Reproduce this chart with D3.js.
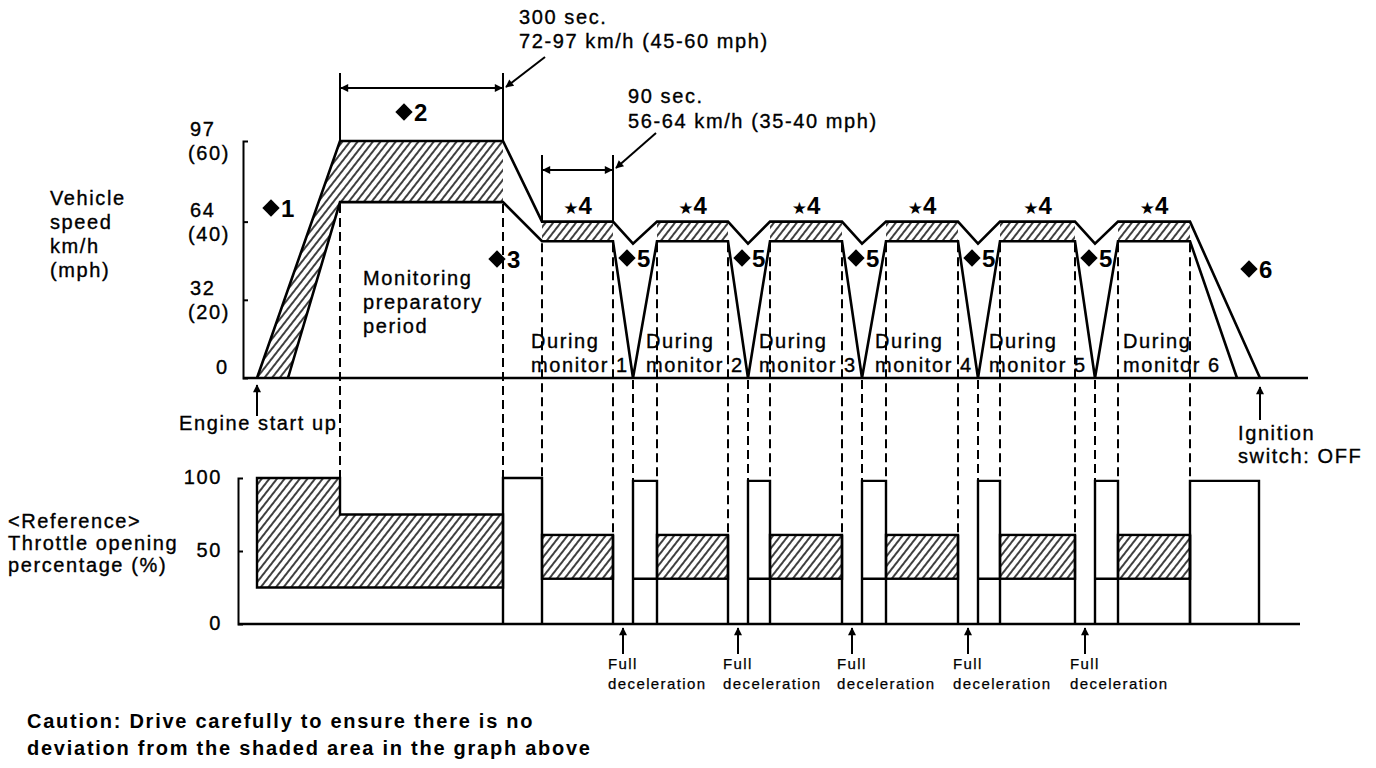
<!DOCTYPE html>
<html>
<head>
<meta charset="utf-8">
<script src="https://cdn.jsdelivr.net/npm/d3@7"></script>
<style>
  body { margin: 0; background: #fff; }
  text { font-family: "Liberation Sans", Arial, Helvetica, "DejaVu Sans", sans-serif; fill: #000; }
  .lbl { font-size: 20px; letter-spacing: 1.6px; stroke: #000; stroke-width: 0.35px; }
  .sym { font-size: 24px; font-weight: bold; }
  .small { font-size: 15px; letter-spacing: 1.4px; stroke: #000; stroke-width: 0.25px; }
  .note { font-size: 20px; font-weight: bold; letter-spacing: 1.75px; }
</style>
</head>
<body>
<svg id="chart" width="1376" height="768"></svg>
<script>
// schematic time axis, 0 = engine start (units are arbitrary, roughly px of the original sheet)
var rampLowStart = 31;
var rampEnd = 83;
var prepEnd = 246;
var monStart = [285, 400, 513, 629, 743, 861];
var monEnd = [356, 471, 585, 701, 818, 933];
var decel = [376, 491, 605, 721, 838];
var offLow = 980, offTop = 1003;

// vehicle speed, km/h
var prepBand = [72, 97];
var monBand = [56, 64];
var dipTop = 55;
var speedTicks = [0, 32, 64, 97];
var mphTicks = ['', '(20)', '(40)', '(60)'];

// throttle opening, %
var thrPrepTop = [100, 75];
var thrPrepLow = 25;
var thrFirst = 100;
var thrFull = 98;
var thrMon = [31, 61];
var thrTicks = [0, 50, 100];

var svg = d3.select('#chart');
svg.append('rect').attr('width', 1376).attr('height', 768).attr('fill', '#fff');

var defs = svg.append('defs');
defs.append('pattern')
  .attr('id', 'hatch')
  .attr('patternUnits', 'userSpaceOnUse')
  .attr('width', 6).attr('height', 6)
  .attr('patternTransform', 'rotate(38)')
  .append('line')
  .attr('x1', 3).attr('y1', 0).attr('x2', 3).attr('y2', 6)
  .attr('stroke', '#000').attr('stroke-width', 1.5);

defs.append('marker')
  .attr('id', 'arr')
  .attr('viewBox', '0 0 10 10')
  .attr('refX', 9).attr('refY', 5)
  .attr('markerWidth', 11).attr('markerHeight', 8)
  .attr('markerUnits', 'userSpaceOnUse')
  .attr('orient', 'auto-start-reverse')
  .append('path').attr('d', 'M0,0L10,5L0,10z').attr('fill', '#000');

var x = d3.scaleLinear().domain([0, 1000]).range([257, 1257]);
var ySpd = d3.scaleLinear().domain([0, 97]).range([378, 141]);
var yThr = d3.scaleLinear().domain([0, 100]).range([624, 478]);

var spdLine = d3.line().x(function (d) { return x(d[0]); }).y(function (d) { return ySpd(d[1]); });
var thrLine = d3.line().x(function (d) { return x(d[0]); }).y(function (d) { return yThr(d[1]); });

// ---------- vehicle speed ----------
var gS = svg.append('g');

// shaded tolerance areas
gS.append('path')
  .attr('d', spdLine([[0, 0], [rampEnd, prepBand[1]], [rampEnd, prepBand[0]], [rampLowStart, 0]]) + 'Z')
  .attr('fill', 'url(#hatch)');
gS.append('rect')
  .attr('x', x(rampEnd)).attr('width', x(prepEnd) - x(rampEnd))
  .attr('y', ySpd(prepBand[1])).attr('height', ySpd(prepBand[0]) - ySpd(prepBand[1]))
  .attr('fill', 'url(#hatch)');
gS.selectAll('.mband')
  .data(monStart)
  .enter().append('rect')
  .attr('class', 'mband')
  .attr('x', function (d) { return x(d); })
  .attr('width', function (d, i) { return x(monEnd[i]) - x(d); })
  .attr('y', ySpd(monBand[1]))
  .attr('height', ySpd(monBand[0]) - ySpd(monBand[1]))
  .attr('fill', 'url(#hatch)');

var upper = [[0, 0], [rampEnd, prepBand[1]], [prepEnd, prepBand[1]]];
var lower = [[rampLowStart, 0], [rampEnd, prepBand[0]], [prepEnd, prepBand[0]]];
monStart.forEach(function (s, i) {
  upper.push([s, monBand[1]], [monEnd[i], monBand[1]]);
  lower.push([s, monBand[0]], [monEnd[i], monBand[0]]);
  if (i < decel.length) {
    upper.push([decel[i], dipTop]);
    lower.push([decel[i], 0]);
  }
});
upper.push([offTop, 0]);
lower.push([offLow, 0]);

gS.append('path').attr('d', spdLine(upper))
  .attr('fill', 'none').attr('stroke', '#000').attr('stroke-width', 2.6);
gS.append('path').attr('d', spdLine(lower))
  .attr('fill', 'none').attr('stroke', '#000').attr('stroke-width', 2.6);

// baseline + axis bracket
gS.append('line')
  .attr('x1', 243).attr('x2', 1308)
  .attr('y1', ySpd(0)).attr('y2', ySpd(0))
  .attr('stroke', '#000').attr('stroke-width', 2.6);
var axS = gS.append('g')
  .attr('transform', 'translate(243,0)')
  .call(d3.axisRight(ySpd).tickValues([32, 64]).tickSize(5).tickSizeOuter(5).tickFormat(''));
axS.selectAll('path,line').attr('stroke', '#000').attr('stroke-width', 2);

gS.selectAll('.kmh')
  .data(speedTicks)
  .enter().append('text')
  .attr('class', 'lbl')
  .attr('x', function (d) { return d === 0 ? 216 : 190; })
  .attr('y', function (d) { return d === 0 ? ySpd(d) - 4 : ySpd(d) - 5; })
  .text(function (d) { return d; });
gS.selectAll('.mph')
  .data(speedTicks)
  .enter().append('text')
  .attr('class', 'lbl')
  .attr('x', 188)
  .attr('y', function (d) { return ySpd(d) + 19; })
  .text(function (d, i) { return mphTicks[i]; });

['Vehicle', 'speed', 'km/h', '(mph)'].forEach(function (t, i) {
  gS.append('text').attr('class', 'lbl').attr('x', 50).attr('y', 205 + i * 24).text(t);
});

// ---------- throttle ----------
var gT = svg.append('g');

gT.append('path')
  .attr('d', thrLine([[0, thrPrepTop[0]], [rampEnd, thrPrepTop[0]], [rampEnd, thrPrepTop[1]],
    [prepEnd, thrPrepTop[1]], [prepEnd, thrPrepLow], [0, thrPrepLow]]) + 'Z')
  .attr('fill', 'url(#hatch)').attr('stroke', '#000').attr('stroke-width', 2.4);

gT.selectAll('.tband')
  .data(monStart)
  .enter().append('rect')
  .attr('class', 'tband')
  .attr('x', function (d) { return x(d); })
  .attr('width', function (d, i) { return x(monEnd[i]) - x(d); })
  .attr('y', yThr(thrMon[1]))
  .attr('height', yThr(thrMon[0]) - yThr(thrMon[1]))
  .attr('fill', 'url(#hatch)').attr('stroke', '#000').attr('stroke-width', 2.4);

// lower step lines + drop to zero at the end of each monitor
monStart.forEach(function (s, i) {
  var from = i === 0 ? s : decel[i - 1];
  gT.append('path')
    .attr('d', thrLine([[from, thrMon[0]], [s, thrMon[0]]]) + thrLine([[monEnd[i], thrMon[1]], [monEnd[i], 0]]))
    .attr('fill', 'none').attr('stroke', '#000').attr('stroke-width', 2.4);
});

// full throttle bars
var bars = [[prepEnd, monStart[0], thrFirst]];
decel.forEach(function (d, i) { bars.push([d, monStart[i + 1], thrFull]); });
bars.push([monEnd[monEnd.length - 1], offTop - 1, thrFull]);
gT.selectAll('.bar')
  .data(bars)
  .enter().append('path')
  .attr('class', 'bar')
  .attr('d', function (b) { return thrLine([[b[0], 0], [b[0], b[2]], [b[1], b[2]], [b[1], 0]]); })
  .attr('fill', 'none').attr('stroke', '#000').attr('stroke-width', 2.4);

gT.append('line')
  .attr('x1', 238).attr('x2', 1300)
  .attr('y1', yThr(0)).attr('y2', yThr(0))
  .attr('stroke', '#000').attr('stroke-width', 2.6);
var axT = gT.append('g')
  .attr('transform', 'translate(238,0)')
  .call(d3.axisRight(yThr).tickValues([50]).tickSize(5).tickSizeOuter(5).tickFormat(''));
axT.selectAll('path,line').attr('stroke', '#000').attr('stroke-width', 2);

gT.selectAll('.ptick')
  .data(thrTicks)
  .enter().append('text')
  .attr('class', 'lbl')
  .attr('text-anchor', 'end')
  .attr('x', 222)
  .attr('y', function (d) { return yThr(d) + 6; })
  .text(function (d) { return d; });

['<Reference>', 'Throttle opening', 'percentage (%)'].forEach(function (t, i) {
  gT.append('text').attr('class', 'lbl').attr('x', 8).attr('y', 528 + i * 22).text(t);
});

// ---------- dashed guides between the two charts ----------
var guides = [[rampEnd, prepBand[0], thrFirst], [prepEnd, prepBand[0], thrFirst], [monStart[0], monBand[0], thrFirst]];
monEnd.forEach(function (e, i) {
  guides.push([e, monBand[0], i < decel.length ? thrMon[1] : thrFull]);
  if (i < decel.length) {
    guides.push([decel[i], 0, thrFull]);
    guides.push([monStart[i + 1], monBand[0], thrFull]);
  }
});
svg.selectAll('.guide')
  .data(guides)
  .enter().append('line')
  .attr('class', 'guide')
  .attr('x1', function (d) { return x(d[0]); })
  .attr('x2', function (d) { return x(d[0]); })
  .attr('y1', function (d) { return ySpd(d[1]) + 2; })
  .attr('y2', function (d) { return yThr(d[2]); })
  .attr('stroke', '#000').attr('stroke-width', 2)
  .attr('stroke-dasharray', '9,5');

// ---------- brackets and arrows ----------
var gA = svg.append('g').attr('stroke', '#000').attr('stroke-width', 2);
[rampEnd, prepEnd].forEach(function (t) {
  gA.append('line').attr('x1', x(t)).attr('x2', x(t)).attr('y1', 73).attr('y2', ySpd(prepBand[1]));
});
gA.append('line').attr('x1', x(rampEnd) + 1).attr('x2', x(prepEnd) - 1).attr('y1', 88).attr('y2', 88)
  .attr('marker-start', 'url(#arr)').attr('marker-end', 'url(#arr)');
[monStart[0], monEnd[0]].forEach(function (t) {
  gA.append('line').attr('x1', x(t)).attr('x2', x(t)).attr('y1', 155).attr('y2', ySpd(monBand[1]));
});
gA.append('line').attr('x1', x(monStart[0]) + 1).attr('x2', x(monEnd[0]) - 1).attr('y1', 170).attr('y2', 170)
  .attr('marker-start', 'url(#arr)').attr('marker-end', 'url(#arr)');
gA.append('line').attr('x1', 545).attr('y1', 57).attr('x2', x(prepEnd) + 3).attr('y2', 87).attr('marker-end', 'url(#arr)');
gA.append('line').attr('x1', 656).attr('y1', 133).attr('x2', x(monEnd[0]) + 3).attr('y2', 168).attr('marker-end', 'url(#arr)');

// engine start / ignition off
gA.append('line').attr('x1', x(0)).attr('x2', x(0)).attr('y1', 416).attr('y2', ySpd(0) + 7).attr('marker-end', 'url(#arr)');
gA.append('line').attr('x1', x(offTop)).attr('x2', x(offTop)).attr('y1', 420).attr('y2', ySpd(0) + 9).attr('marker-end', 'url(#arr)');
svg.append('text').attr('class', 'lbl').attr('x', 179).attr('y', 430).text('Engine start up');
svg.append('text').attr('class', 'lbl').attr('x', 1238).attr('y', 440).text('Ignition');
svg.append('text').attr('class', 'lbl').attr('x', 1238).attr('y', 463).text('switch: OFF');

// full deceleration arrows
decel.forEach(function (d, i) {
  var xm = x((monEnd[i] + d) / 2);
  gA.append('line').attr('x1', xm).attr('x2', xm).attr('y1', 654).attr('y2', yThr(0) + 4).attr('marker-end', 'url(#arr)');
  svg.append('text').attr('class', 'small').attr('x', xm - 15).attr('y', 669).text('Full');
  svg.append('text').attr('class', 'small').attr('x', xm - 15).attr('y', 689).text('deceleration');
});

// ---------- annotations ----------
svg.append('text').attr('class', 'lbl').attr('x', 519).attr('y', 24).text('300 sec.');
svg.append('text').attr('class', 'lbl').attr('x', 519).attr('y', 48).text('72-97 km/h (45-60 mph)');
svg.append('text').attr('class', 'lbl').attr('x', 628).attr('y', 103).text('90 sec.');
svg.append('text').attr('class', 'lbl').attr('x', 628).attr('y', 128).text('56-64 km/h (35-40 mph)');

['Monitoring', 'preparatory', 'period'].forEach(function (t, i) {
  svg.append('text').attr('class', 'lbl').attr('x', 363).attr('y', 285 + i * 24).text(t);
});

monStart.forEach(function (s, i) {
  var lx = x(s) + (i === monStart.length - 1 ? 5 : -11);
  svg.append('text').attr('class', 'lbl').attr('x', lx).attr('y', 348).text('During');
  svg.append('text').attr('class', 'lbl').attr('x', lx).attr('y', 372).text('monitor ' + (i + 1));
  var st = svg.append('text').attr('class', 'sym').attr('text-anchor', 'middle')
    .attr('x', x((s + monEnd[i]) / 2)).attr('y', ySpd(monBand[1]) - 8);
  st.append('tspan').style('font-size', '17px').text('\u2605');
  st.append('tspan').text('4');
});

// ◆n step markers: a square turned 45° followed by the bold number
var diamondPath = d3.symbol().type(d3.symbolSquare).size(150)();
function diamond(label, px, py) {
  svg.append('path').attr('d', diamondPath)
    .attr('transform', 'translate(' + (px + 9) + ',' + (py - 9) + ') rotate(45)')
    .attr('fill', '#000');
  svg.append('text').attr('class', 'sym').attr('x', px + 19).attr('y', py).text(label);
}
diamond('1', 262, 217);
diamond('2', 395, 121);
diamond('3', 488, 268);
decel.forEach(function (d) { diamond('5', x(d) - 15, 267); });
diamond('6', 1240, 278);

svg.append('text').attr('class', 'note').attr('x', 27).attr('y', 728)
  .text('Caution: Drive carefully to ensure there is no');
svg.append('text').attr('class', 'note').attr('x', 27).attr('y', 755)
  .text('deviation from the shaded area in the graph above');
</script>
</body>
</html>
